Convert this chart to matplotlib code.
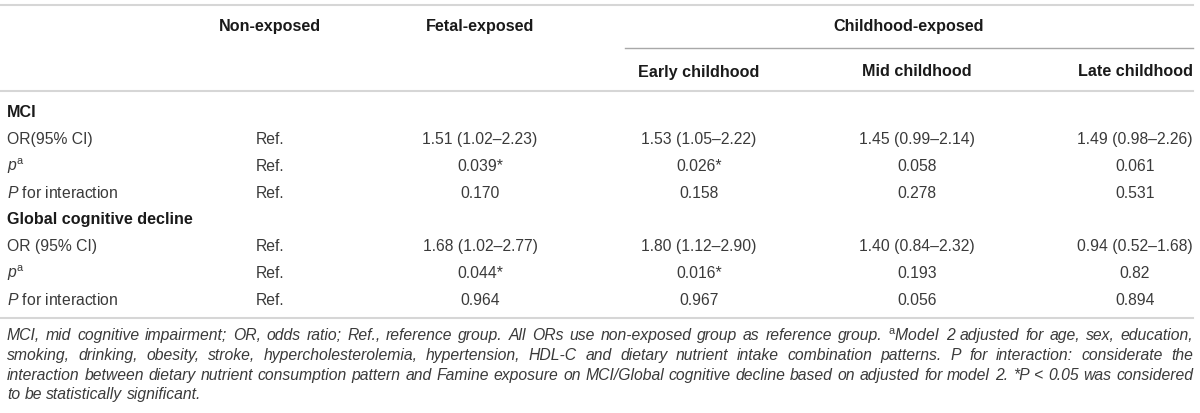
import matplotlib
matplotlib.use("Agg")
import matplotlib.pyplot as plt

plt.rcParams["font.family"] = ["Liberation Sans", "DejaVu Sans"]
plt.rcParams["mathtext.fontset"] = "custom"
plt.rcParams["mathtext.rm"] = "Liberation Sans"
plt.rcParams["mathtext.it"] = "Liberation Sans:italic"
plt.rcParams["mathtext.bf"] = "Liberation Sans:bold"

# table content
group_labels = ["Non-exposed", "Fetal-exposed"]
childhood_label = "Childhood-exposed"
childhood_labels = ["Early childhood", "Mid childhood", "Late childhood"]
sections = ["MCI", "Global cognitive decline"]
mci_rows = ["OR(95% CI)", r"$p^{\mathrm{a}}$", r"$P$ for interaction"]
gcd_rows = ["OR (95% CI)", r"$p^{\mathrm{a}}$", r"$P$ for interaction"]

mci_or = ["Ref.", "1.51 (1.02–2.23)", "1.53 (1.05–2.22)", "1.45 (0.99–2.14)", "1.49 (0.98–2.26)"]
mci_p = ["Ref.", "0.039*", "0.026*", "0.058", "0.061"]
mci_pint = ["Ref.", "0.170", "0.158", "0.278", "0.531"]
gcd_or = ["Ref.", "1.68 (1.02–2.77)", "1.80 (1.12–2.90)", "1.40 (0.84–2.32)", "0.94 (0.52–1.68)"]
gcd_p = ["Ref.", "0.044*", "0.016*", "0.193", "0.82"]
gcd_pint = ["Ref.", "0.964", "0.967", "0.056", "0.894"]

footnote = [
    "MCI, mid cognitive impairment; OR, odds ratio; Ref., reference group. All ORs use non-exposed group as reference group. "
    r"$^{\mathrm{a}}$Model 2 adjusted for age, sex, education,",
    "smoking, drinking, obesity, stroke, hypercholesterolemia, hypertension, HDL-C and dietary nutrient intake "
    "combination patterns. P for interaction: considerate the",
    "interaction between dietary nutrient consumption pattern and Famine exposure on MCI/Global cognitive decline "
    "based on adjusted for model 2. *P < 0.05 was considered",
    "to be statistically significant.",
]

W, H = 1200, 414
fig = plt.figure(figsize=(W / 100, H / 100), dpi=100)
ax = fig.add_axes([0, 0, 1, 1])
ax.set_xlim(0, W)
ax.set_ylim(H, 0)
ax.axis("off")

col_x = [270, 480, 699, 917, 1135]
label_x = 7
body = dict(fontsize=11.3, color="#3a3a3a", va="center")
head = dict(fontsize=11.6, color="#1a1a1a", va="center", fontweight="bold")

# rules
ax.plot([0, 1193], [6, 6], color="#d6d6d6", lw=1.5)
ax.plot([625, 1193], [49, 49], color="#a8a8a8", lw=1.0)
ax.plot([0, 1193], [92, 92], color="#d6d6d6", lw=1.5)
ax.plot([0, 1193], [319, 319], color="#d6d6d6", lw=1.5)

# header
ax.text(col_x[0], 26, group_labels[0], ha="center", **head)
ax.text(col_x[1], 26, group_labels[1], ha="center", **head)
ax.text((625 + 1193) / 2, 26, childhood_label, ha="center", **head)
for x, lab in zip(col_x[2:], childhood_labels):
    ax.text(x, 72, lab, ha="center", **head)

# body
section_y = [113, 220]
row_gap = 26.7
blocks = [(mci_rows, [mci_or, mci_p, mci_pint]), (gcd_rows, [gcd_or, gcd_p, gcd_pint])]
for sy, sec, (labels, rows) in zip(section_y, sections, blocks):
    ax.text(label_x, sy, sec, ha="left", **head)
    for i, (lab, vals) in enumerate(zip(labels, rows)):
        y = sy + row_gap * (i + 1)
        ax.text(label_x, y, lab, ha="left", **body)
        for x, v in zip(col_x, vals):
            ax.text(x, y, v, ha="center", **body)

# footnote, justified
fig.canvas.draw()
renderer = fig.canvas.get_renderer()
foot = dict(fontsize=11.3, color="#3a3a3a", va="center", style="italic")
left, right = 7, 1193
foot_y = [336, 356, 376, 395]


def word_width(w):
    t = ax.text(0, 0, w, **foot)
    bb = t.get_window_extent(renderer)
    t.remove()
    return bb.width


space = word_width("a b") - word_width("ab")
for k, (line, y) in enumerate(zip(footnote, foot_y)):
    words = line.split(" ")
    widths = [word_width(w) for w in words]
    if k < len(footnote) - 1:
        gap = (right - left - sum(widths)) / (len(words) - 1)
    else:
        gap = space
    x = left
    for w, wd in zip(words, widths):
        ax.text(x, y, w, ha="left", **foot)
        x += wd + gap

fig.savefig("out.png", dpi=100)
